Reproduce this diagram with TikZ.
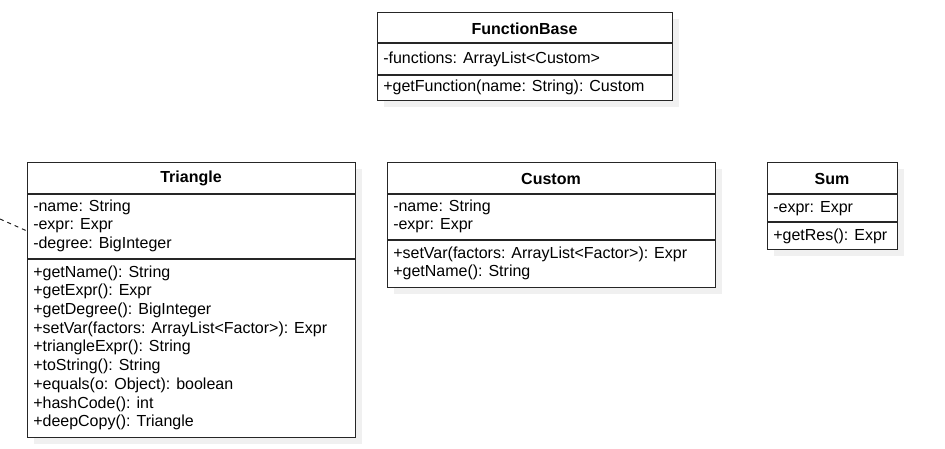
\documentclass[tikz,border=0pt]{standalone}
\usepackage{fontspec}
\setmainfont{Liberation Sans}
\begin{document}
\begin{tikzpicture}[x=0.75pt,y=-0.75pt,
  classbox/.style={draw=black!85,line width=0.9pt,fill=white,anchor=north west,inner sep=0pt},
  sepline/.style={draw=black!85,line width=0.9pt},
  title/.style={font=\fontsize{12pt}{14pt}\selectfont\bfseries,inner sep=0pt},
  member/.style={font=\fontsize{12pt}{14pt}\selectfont,anchor=west,inner sep=0pt},
  dep/.style={draw=black!85,line width=0.75pt,dashed,dash pattern=on 3pt off 3pt}]
\useasboundingbox[fill=white] (0,0) rectangle (945,449);

% shadows
\fill[black!6] (384,19) rectangle (679,107);
\fill[black!6] (34,169) rectangle (362,444);
\fill[black!6] (394,169) rectangle (722,294);
\fill[black!6] (774,169) rectangle (904,256);

% FunctionBase
\node[classbox,minimum width={295*0.75pt},minimum height={88*0.75pt}] (fb) at (377,12) {};
\draw[sepline] (377,43) -- (672,43);
\draw[sepline] (377,75) -- (672,75);
\node[title] (fbt) at (524.5,28.5) {FunctionBase};
\node[member] (fba) at (383,59) {-functions: ArrayList<Custom>};
\node[member] (fbm) at (383,87) {+getFunction(name: String): Custom};

% Triangle
\node[classbox,minimum width={328*0.75pt},minimum height={275*0.75pt}] (tri) at (27,162) {};
\draw[sepline] (27,194) -- (355,194);
\draw[sepline] (27,259) -- (355,259);
\node[title] (trit) at (191,178.5) {Triangle};
\node[member] (tria1) at (33,207.5) {-name: String};
\node[member] (tria2) at (33,226) {-expr: Expr};
\node[member] (tria3) at (33,244.5) {-degree: BigInteger};
\node[member] (trim1) at (33,273) {+getName(): String};
\node[member] (trim2) at (33,291.7) {+getExpr(): Expr};
\node[member] (trim3) at (33,310.4) {+getDegree(): BigInteger};
\node[member] (trim4) at (33,329.1) {+setVar(factors: ArrayList<Factor>): Expr};
\node[member] (trim5) at (33,347.8) {+triangleExpr(): String};
\node[member] (trim6) at (33,366.5) {+toString(): String};
\node[member] (trim7) at (33,385.2) {+equals(o: Object): boolean};
\node[member] (trim8) at (33,403.9) {+hashCode(): int};
\node[member] (trim9) at (33,422.6) {+deepCopy(): Triangle};

% Custom
\node[classbox,minimum width={328*0.75pt},minimum height={125*0.75pt}] (cus) at (387,162) {};
\draw[sepline] (387,194) -- (715,194);
\draw[sepline] (387,240) -- (715,240);
\node[title] (cust) at (551,178.5) {Custom};
\node[member] (cusa1) at (393,207.5) {-name: String};
\node[member] (cusa2) at (393,226) {-expr: Expr};
\node[member] (cusm1) at (393,254) {+setVar(factors: ArrayList<Factor>): Expr};
\node[member] (cusm2) at (393,272.7) {+getName(): String};

% Sum
\node[classbox,minimum width={130*0.75pt},minimum height={87*0.75pt}] (sum) at (767,162) {};
\draw[sepline] (767,194) -- (897,194);
\draw[sepline] (767,222) -- (897,222);
\node[title] (sumt) at (832,178.5) {Sum};
\node[member] (suma1) at (773,208.5) {-expr: Expr};
\node[member] (summ1) at (773,236.5) {+getRes(): Expr};

% dependency stub
\coordinate (depstart) at (0,219);
\coordinate (depend) at (27,231);
\draw[dep] (depstart) -- (depend);
\end{tikzpicture}
\end{document}
